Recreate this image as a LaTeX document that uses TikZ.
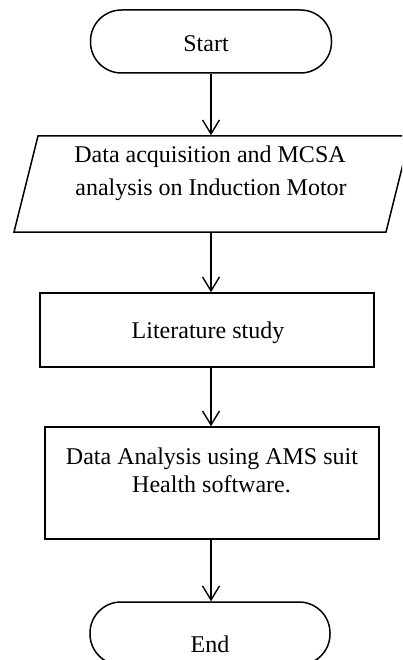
\documentclass[tikz,border=0pt]{standalone}
\usepackage{fontspec}
\setmainfont{Liberation Serif}
\usetikzlibrary{arrows.meta}
\begin{document}
\begin{tikzpicture}[x=1pt,y=-1pt,
  line width=1.5pt,
  term/.style={draw, rectangle, rounded corners=31pt, minimum width=241pt, minimum height=63pt, inner sep=0pt},
  procbox/.style={draw, rectangle, inner sep=0pt},
  txt/.style={anchor=base, inner sep=0pt, font=\fontsize{24}{28}\selectfont},
  arr/.style={-{Straight Barb[length=14pt,width=17pt]}, line width=1.4pt}]
\useasboundingbox (0,0) rectangle (402,660);
\clip (0,0) rectangle (402,660);
\fill[white] (0,0) rectangle (402,660);
% Start
\node[term] (s) at (211,41.5) {};
\node[txt] (st) at (206,52) {Start};
% Parallelogram (input)
\node[inner sep=0pt, minimum width=372pt, minimum height=96pt] (p) at (211,184) {};
\coordinate (pbl) at (14,232);
\coordinate (pbr) at (386,232);
\coordinate (ptr) at (410,136);
\coordinate (ptl) at (38,136);
\draw[line join=miter] (pbl) -- (pbr) -- (ptr) -- (ptl) -- cycle;
\node[txt] (pt1) at (210,163) {Data acquisition and MCSA};
\node[txt] (pt2) at (211,196) {analysis on Induction Motor};
% Literature study
\node[procbox, minimum width=334pt, minimum height=74pt] (l) at (207,330) {};
\node[txt] (lt) at (208,338) {Literature study};
% Data analysis
\node[procbox, minimum width=334pt, minimum height=112pt] (d) at (212,483) {};
\node[txt] (dt1) at (212,464) {Data Analysis using AMS suit};
\node[txt] (dt2) at (211.5,492) {Health software.};
% End
\node[term, minimum width=240pt] (e) at (210,633.5) {};
\node[txt] (et) at (210,652) {End};
% connectors
\draw[arr] (s.south) -- (s.south |- p.north);
\draw[arr] (p.south) -- (p.south |- l.north);
\draw[arr] (l.south -| p.south) -- (p.south |- d.north);
\draw[arr] (d.south -| p.south) -- (p.south |- e.north);
\end{tikzpicture}
\end{document}
